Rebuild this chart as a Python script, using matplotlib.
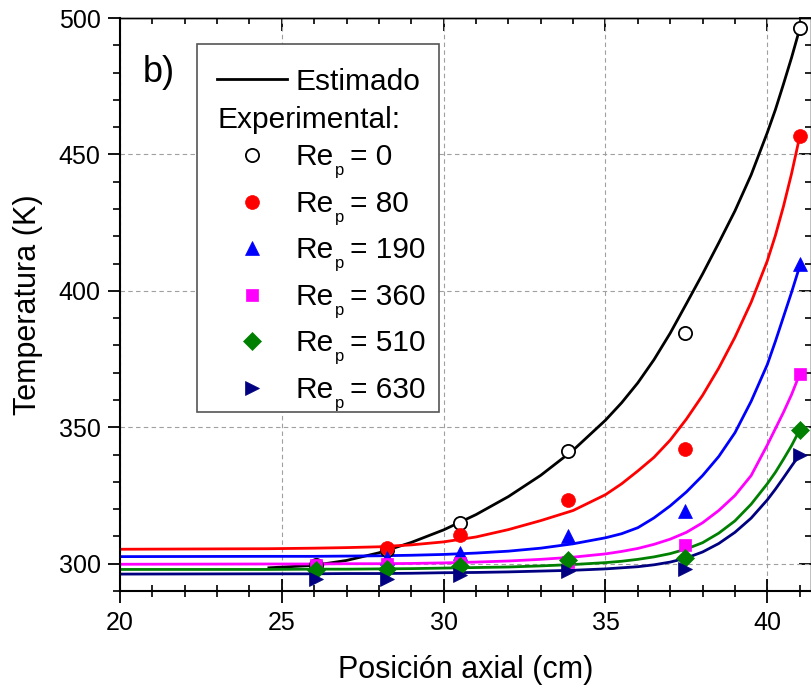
import numpy as np
import matplotlib
matplotlib.use('Agg')
import matplotlib.pyplot as plt
from matplotlib.ticker import MultipleLocator
from matplotlib.patches import Rectangle

plt.rcParams['font.family'] = 'Liberation Sans'

# axial positions of the thermocouples (cm)
pos_exp = [26.06, 28.26, 30.49, 33.83, 37.45, 41.02]

# measured temperatures (K) for each particle Reynolds number
T_exp_0 = [299.5, 305.2, 315.0, 341.2, 384.7, 496.5]
T_exp_80 = [np.nan, 305.6, 310.7, 323.5, 342.2, 456.9]
T_exp_190 = [np.nan, 302.0, 304.0, 310.3, 319.5, 409.9]
T_exp_360 = [299.5, 300.0, 300.3, 300.8, 306.8, 369.7]
T_exp_510 = [297.7, 297.9, 299.3, 301.3, 302.0, 348.9]
T_exp_630 = [294.3, 294.3, 295.9, 297.4, 297.9, 340.0]

# estimated profiles (K)
pos_est = [20, 24.6, 26, 27, 28, 29, 30, 31, 32, 33, 34, 35, 35.5, 36, 36.5,
           37, 37.5, 38, 38.5, 39, 39.5, 40, 40.25, 40.5, 40.75, 41]
T_est_0 = [np.nan, 298.5, 299.4, 301.2, 304.0, 307.8, 312.4, 318.0, 324.6, 332.4,
           341.6, 352.6, 359.0, 366.3, 374.8, 384.5, 395.3, 406.2, 417.6, 429.3,
           442.5, 458.0, 466.4, 475.8, 485.5, 496.0]
T_est_80 = [305.3, 305.5, 305.7, 305.9, 306.2, 306.9, 308.0, 309.8, 312.5, 315.8,
            319.5, 325.3, 329.3, 334.0, 339.0, 345.3, 353.0, 361.7, 371.7, 383.0,
            395.8, 411.0, 420.3, 431.0, 443.0, 456.5]
T_est_190 = [302.6, 302.7, 302.7, 302.8, 302.9, 303.1, 303.4, 303.9, 304.6, 305.7,
             307.3, 309.5, 311.0, 313.2, 316.8, 321.2, 326.3, 332.3, 339.3, 348.0,
             359.5, 373.0, 381.5, 390.5, 399.5, 409.0]
T_est_360 = [299.8, 299.9, 299.9, 300.0, 300.0, 300.1, 300.3, 300.6, 301.0, 301.6,
             302.4, 303.6, 304.5, 305.6, 307.1, 309.0, 311.5, 315.0, 319.5, 325.0,
             332.3, 343.5, 349.5, 355.5, 362.0, 369.5]
T_est_510 = [297.9, 297.9, 298.0, 298.0, 298.1, 298.2, 298.4, 298.6, 298.8, 299.2,
             299.7, 300.4, 300.9, 301.6, 302.5, 303.7, 305.4, 307.7, 311.2, 315.7,
             321.8, 329.3, 333.5, 338.3, 343.3, 349.0]
T_est_630 = [296.2, 296.3, 296.3, 296.4, 296.4, 296.5, 296.7, 296.8, 297.0, 297.3,
             297.6, 298.1, 298.5, 298.9, 299.6, 300.6, 302.1, 304.3, 307.4, 311.5,
             316.7, 323.4, 327.3, 331.5, 335.8, 340.0]

re_labels = ['0', '80', '190', '360', '510', '630']
colors = ['black', '#ff0000', '#0000ff', '#ff00ff', '#008000', '#000080']
markers = ['o', 'o', '^', 's', 'D', '>']
msizes = [9.5, 10, 10.5, 8.5, 9.5, 10.5]

T_exp = [T_exp_0, T_exp_80, T_exp_190, T_exp_360, T_exp_510, T_exp_630]
T_est = [T_est_0, T_est_80, T_est_190, T_est_360, T_est_510, T_est_630]

fig = plt.figure(figsize=(8.11, 6.88), dpi=100)
ax = fig.add_axes([120 / 811, 97 / 688, 691 / 811, 573 / 688])

for i in range(6):
    ax.plot(pos_est, T_est[i], color=colors[i], lw=2.0, zorder=2 + i * 0.01)

for i in range(6):
    face = 'white' if i == 0 else colors[i]
    ax.plot(pos_exp, T_exp[i], linestyle='none', marker=markers[i], ms=msizes[i],
            mfc=face, mec=colors[i], mew=1.3 if i == 0 else 0.5, zorder=3 + i * 0.01,
            clip_on=False)

ax.set_xlim(20, 41.35)
ax.set_ylim(290, 500)
ax.xaxis.set_major_locator(MultipleLocator(5))
ax.xaxis.set_minor_locator(MultipleLocator(1))
ax.yaxis.set_major_locator(MultipleLocator(50))
ax.yaxis.set_minor_locator(MultipleLocator(10))

ax.grid(True, which='major', color='#a0a0a0', linestyle=(0, (4, 3)), lw=0.8, zorder=0)
ax.set_axisbelow(True)

ax.tick_params(axis='x', which='major', direction='inout', length=17, width=1.3,
               labelsize=18, pad=6)
ax.tick_params(axis='x', which='minor', direction='inout', length=8.5, width=1.2)
ax.tick_params(axis='y', which='major', direction='out', length=9, width=1.3,
               labelsize=18, pad=5)
ax.tick_params(axis='y', which='minor', direction='out', length=4.8, width=1.2)

for side in ['left', 'bottom']:
    ax.spines[side].set_linewidth(1.5)
for side in ['top', 'right']:
    ax.spines[side].set_linewidth(1.0)

# inward ticks on the top and right edges
secx = ax.secondary_xaxis('top')
secx.xaxis.set_major_locator(MultipleLocator(5))
secx.xaxis.set_minor_locator(MultipleLocator(1))
secx.tick_params(which='major', direction='in', length=9, width=1.3, labeltop=False)
secx.tick_params(which='minor', direction='in', length=4.5, width=1.2)
secx.spines['top'].set_linewidth(1.0)

secy = ax.secondary_yaxis('right')
secy.yaxis.set_major_locator(MultipleLocator(50))
secy.yaxis.set_minor_locator(MultipleLocator(10))
secy.tick_params(which='major', direction='in', length=9, width=1.3, labelright=False)
secy.tick_params(which='minor', direction='in', length=4.5, width=1.2)

ax.set_xlabel('Posición axial (cm)', fontsize=22)
ax.set_ylabel('Temperatura (K)', fontsize=22)
ax.xaxis.set_label_coords(0.5, -0.112)
ax.yaxis.set_label_coords(-0.111, 0.5)

ax.text(0.0333, 0.889, 'b)', transform=ax.transAxes, fontsize=26,
        ha='left', va='baseline')

# legend box
ax.add_patch(Rectangle((0.111, 0.312), 0.351, 0.643, transform=ax.transAxes,
                       facecolor='white', edgecolor='#555555', lw=1.2, zorder=5))
ax.plot([0.1404, 0.2417], [0.8935, 0.8935], transform=ax.transAxes, color='black',
        lw=2.0, zorder=6)
ax.text(0.2533, 0.8743, 'Estimado', transform=ax.transAxes, fontsize=21.5,
        ha='left', va='baseline', zorder=6)
ax.text(0.1418, 0.8075, 'Experimental:', transform=ax.transAxes, fontsize=21.5,
        ha='left', va='baseline', zorder=6)
for i in range(6):
    base = 0.7435 - i * 0.0813
    face = 'white' if i == 0 else colors[i]
    ax.plot([0.191], [base + 0.0175], transform=ax.transAxes, linestyle='none',
            marker=markers[i], ms=msizes[i], mfc=face, mec=colors[i],
            mew=1.3 if i == 0 else 0.5, zorder=6)
    ax.text(0.2533, base, 'Re', transform=ax.transAxes, fontsize=21.5,
            ha='left', va='baseline', zorder=6)
    ax.text(0.3104, base - 0.0175, 'p', transform=ax.transAxes, fontsize=12,
            ha='left', va='baseline', zorder=6)
    ax.text(0.3325, base, '= ' + re_labels[i], transform=ax.transAxes, fontsize=21.5,
            ha='left', va='baseline', zorder=6)

fig.savefig('out.png', dpi=100)
